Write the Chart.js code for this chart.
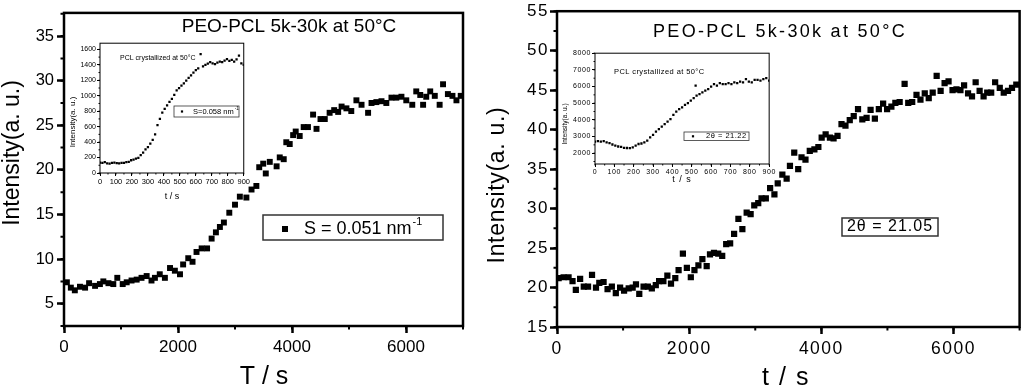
<!DOCTYPE html>
<html>
<head>
<meta charset="utf-8">
<script src="https://cdn.jsdelivr.net/npm/chart.js@4.4.1/dist/chart.umd.min.js"></script>
<style>
  html, body { margin: 0; padding: 0; background: #fff; }
  #wrap { position: relative; width: 1024px; height: 389px; overflow: hidden; }
  canvas { position: absolute; }
</style>
</head>
<body>
<div id="wrap">
  <canvas id="mainL" style="left:0;top:0" width="480" height="389"></canvas>
  <canvas id="mainR" style="left:480px;top:0" width="544" height="389"></canvas>
  <canvas id="insetL" style="left:66px;top:38px" width="185" height="166"></canvas>
  <canvas id="insetR" style="left:558px;top:48px" width="218" height="140"></canvas>
</div>
<script>
// left panel, S = 0.051 nm-1
const leftTimes = [50,120,190,280,370,440,545,630,690,780,865,935,1030,1100,1185,1275,1360,1450,1535,1595,
  1680,1770,1860,1945,2035,2090,2180,2255,2325,2415,2510,2590,2665,2735,2805,2900,3000,3085,3200,3290,
  3375,3425,3495,3540,3610,3730,3785,3855,3900,3960,4020,4065,4135,4205,4280,4370,4430,4500,4575,4660,
  4740,4810,4870,4955,5040,5130,5220,5335,5395,5480,5570,5655,5745,5830,5920,6005,6110,6180,6250,6300,
  6355,6425,6505,6590,6650,6735,6815,6885,6960];
const leftValues = [7.4,6.8,6.5,6.9,6.8,7.3,7.0,7.2,7.5,7.3,7.2,7.9,7.2,7.4,7.6,7.7,7.9,8.1,7.6,7.9,
  8.3,7.9,9.0,8.7,8.3,9.4,10.1,9.7,10.8,11.2,11.2,12.3,13.0,13.6,14.1,15.2,16.1,17.0,16.9,17.8,
  18.2,20.3,20.7,19.6,20.9,20.4,21.4,21.2,23.1,22.9,23.9,24.3,23.8,24.8,24.8,26.2,24.6,25.7,25.7,26.4,
  26.7,26.5,27.1,26.9,26.6,27.8,27.3,26.4,27.5,27.6,27.7,27.5,28.1,28.1,28.2,27.8,27.3,28.8,28.4,27.3,
  28.2,28.8,28.3,27.3,29.6,28.5,28.3,27.8,28.3];

// right panel, 2theta = 21.05
const rightTimes = [25,100,175,235,285,350,405,470,530,590,640,705,765,830,890,955,1015,1085,1145,1195,
  1245,1310,1375,1435,1495,1545,1610,1670,1725,1790,1840,1905,1965,2025,2080,2140,2200,2265,2315,2375,
  2440,2500,2560,2620,2680,2745,2805,2870,2930,2985,3045,3095,3160,3225,3290,3340,3410,3475,3525,3590,
  3650,3700,3760,3825,3895,3955,4005,4065,4130,4185,4245,4305,4365,4430,4490,4555,4620,4685,4745,4810,
  4870,4935,4995,5060,5120,5185,5260,5315,5375,5440,5500,5565,5625,5685,5745,5805,5865,5925,5985,6045,
  6105,6160,6220,6280,6335,6395,6455,6510,6570,6630,6700,6760,6825,6885,6950];
const rightValues = [21.2,21.3,21.3,20.8,19.7,21.1,20.1,20.1,21.6,20.0,20.6,20.7,19.8,20.1,19.3,20.0,19.6,19.9,20.0,20.4,
  19.2,20.1,20.1,19.9,20.3,20.8,20.8,21.5,20.5,21.2,22.2,24.3,22.5,21.3,22.2,22.8,23.6,22.7,24.2,24.4,
  24.3,24.0,25.5,25.6,26.8,28.7,27.4,29.5,29.3,30.4,30.7,31.3,31.3,32.6,31.8,33.2,34.3,33.8,35.4,37.1,
  35.0,36.5,36.2,37.3,37.5,37.8,39.0,39.4,39.0,38.9,39.2,40.7,40.5,41.2,41.7,42.6,41.3,41.5,42.5,41.4,
  42.6,43.3,42.6,42.9,43.4,43.5,45.8,43.4,43.5,44.4,43.8,44.6,44.0,44.7,46.8,44.9,45.9,46.1,45.0,45.1,
  45.0,45.6,44.6,44.2,46.0,44.9,44.2,44.7,44.7,46.0,45.3,44.7,44.9,45.3,45.7];

// insets, 0-900 s
const insetTimes = [0,15,30,45,60,75,90,105,120,135,150,165,180,195,210,225,240,255,270,285,
  300,315,330,345,360,375,390,405,420,435,450,465,480,495,510,525,540,555,570,585,
  600,615,630,645,660,675,690,705,720,735,750,765,780,795,810,825,840,855,870,885,900];
const insetLValues = [135,130,140,125,120,130,135,128,125,132,130,140,145,165,172,185,195,230,265,305,
  335,380,430,500,620,700,780,830,875,920,960,1010,1070,1100,1130,1160,1195,1230,1265,1300,
  1330,1355,1540,1380,1400,1415,1435,1420,1410,1430,1440,1435,1455,1475,1450,1465,1440,1470,1520,1420,1400];
const insetRValues = [2700,2720,2690,2720,2650,2600,2520,2450,2400,2380,2320,2310,2300,2350,2450,2550,2580,2650,2750,2950,
  3100,3300,3450,3600,3750,3900,4050,4300,4500,4650,4750,4900,5000,5150,5300,5450,5550,5650,5750,5850,
  6000,6150,6050,6200,6150,6150,6200,6150,6250,6200,6300,6250,6450,6300,6250,6400,6400,6350,6450,6500,6350];
const outlierR = { x: 520, y: 6050 };

// tick labels
const mainXTicks = [0, 2000, 4000, 6000];
const leftYTicks = [5, 10, 15, 20, 25, 30, 35];
const rightYTicks = [15, 20, 25, 30, 35, 40, 45, 50, 55];
const insetXTicks = [0, 100, 200, 300, 400, 500, 600, 700, 800, 900];
const insetLYTicks = [0, 200, 400, 600, 800, 1000, 1200, 1400, 1600];
const insetRYTicks = [2000, 3000, 4000, 5000, 6000, 7000, 8000];

const FONT = "'Liberation Sans', Arial, sans-serif";

function drawText(ctx, t) {
  ctx.save();
  ctx.fillStyle = '#000';
  ctx.font = t.size + 'px ' + FONT;
  ctx.letterSpacing = (t.ls || 0) + 'px';
  ctx.textBaseline = 'middle';
  ctx.translate(t.x, t.y);
  if (t.rot) ctx.rotate(-Math.PI / 2);
  ctx.textAlign = t.align || 'center';
  ctx.fillText(t.text, 0, 0);
  if (t.sup) {
    const w = ctx.measureText(t.text).width;
    ctx.font = (t.size * 0.6) + 'px ' + FONT;
    ctx.textAlign = 'left';
    ctx.fillText(t.sup, w + 1, -t.size * 0.4);
  }
  ctx.restore();
}

const decor = {
  id: 'decor',
  beforeDraw(chart, args, o) {
    const ctx = chart.ctx;
    ctx.letterSpacing = (o.ls || 0) + 'px';
    if (o.fillArea) {
      const a = chart.chartArea;
      ctx.save();
      ctx.fillStyle = '#fff';
      ctx.fillRect(a.left, a.top, a.width, a.height);
      ctx.restore();
    }
  },
  afterDraw(chart, args, o) {
    const { ctx, chartArea: a, scales: { x, y } } = chart;
    ctx.save();
    ctx.strokeStyle = '#000';
    ctx.lineWidth = o.minorW;
    ctx.beginPath();
    for (let v = x.min; v <= x.max + 1e-9; v += o.minorX) {
      const px = x.getPixelForValue(v);
      ctx.moveTo(px, a.bottom); ctx.lineTo(px, a.bottom + o.minorLen);
    }
    for (let v = Math.ceil(y.min / o.minorY) * o.minorY; v <= y.max + 1e-9; v += o.minorY) {
      const py = y.getPixelForValue(v);
      ctx.moveTo(a.left, py); ctx.lineTo(a.left - o.minorLen, py);
    }
    ctx.stroke();
    ctx.lineWidth = o.frame;
    ctx.strokeRect(a.left, a.top, a.width, a.height);
    if (o.box) {
      ctx.lineWidth = o.box.lw;
      ctx.strokeStyle = '#333';
      ctx.strokeRect(o.box.x, o.box.y, o.box.w, o.box.h);
      if (o.box.mark) {
        const m = o.box.mark;
        ctx.fillStyle = '#000';
        ctx.fillRect(m.x - m.s / 2, m.y - m.s / 2, m.s, m.s);
      }
    }
    ctx.restore();
    (o.texts || []).forEach(t => drawText(ctx, t));
  }
};

function scatterChart(id, o) {
  const pts = o.times.map((t, i) => ({ x: t, y: o.values[i] }));
  if (o.extra) pts.push(o.extra);
  const axisCommon = (tickFont, pad) => ({
    type: 'linear',
    border: { display: false },
    grid: { drawOnChartArea: false, tickLength: o.tickLen, tickWidth: o.tickW, tickColor: '#000' },
    ticks: { color: '#000', font: tickFont, padding: pad, maxRotation: 0, autoSkip: false, callback: v => String(v) }
  });
  const xs = axisCommon(o.xFont, o.xPad);
  Object.assign(xs, {
    min: o.xMin, max: o.xMax,
    afterBuildTicks: s => { s.ticks = o.xTicks.map(v => ({ value: v })); },
    afterFit: s => { s.height = o.xH; }
  });
  const ys = axisCommon(o.yFont, o.yPad);
  Object.assign(ys, {
    min: o.yMin, max: o.yMax,
    afterBuildTicks: s => { s.ticks = o.yTicks.map(v => ({ value: v })); },
    afterFit: s => { s.width = o.yW; }
  });
  return new Chart(document.getElementById(id), {
    type: 'scatter',
    data: {
      datasets: [{
        data: pts,
        pointStyle: 'rect',
        pointRadius: o.r,
        pointHoverRadius: o.r,
        backgroundColor: '#000',
        borderWidth: 0
      }]
    },
    options: {
      responsive: false,
      animation: false,
      events: [],
      layout: { padding: o.pad },
      plugins: { legend: { display: false }, tooltip: { enabled: false }, decor: o.decor },
      scales: { x: xs, y: ys }
    },
    plugins: [decor]
  });
}

const title = 'PEO-PCL 5k-30k at 50\u00B0C';
const insetTitle = 'PCL crystallized at 50\u00B0C';
const yTitle = 'Intensity(a. u.)';

scatterChart('mainL', {
  times: leftTimes, values: leftValues, r: 4.2,
  xMin: 0, xMax: 7000, yMin: 2.5, yMax: 37.6,
  xTicks: mainXTicks, yTicks: leftYTicks,
  xH: 60, yW: 64, pad: { left: 0, top: 5, right: 17, bottom: 3 },
  tickLen: 7, tickW: 2.5,
  xFont: { family: FONT, size: 17 }, yFont: { family: FONT, size: 16.5 }, xPad: 4, yPad: 3,
  decor: {
    minorX: 1000, minorY: 2.5, minorLen: 3.5, minorW: 2, frame: 2.5,
    box: { x: 263, y: 215, w: 180, h: 25, lw: 1.5, mark: { x: 285, y: 229, s: 6 } },
    texts: [
      { text: title, x: 289, y: 27, size: 19 },
      { text: yTitle, x: 13, y: 153, size: 23, rot: true },
      { text: 'T / s', x: 264, y: 377, size: 25 },
      { text: 'S = 0.051 nm', sup: '-1', x: 304, y: 229, size: 18, align: 'left' }
    ]
  }
});

scatterChart('mainR', {
  times: rightTimes, values: rightValues, r: 4.4,
  xMin: 0, xMax: 7000, yMin: 15, yMax: 55,
  xTicks: mainXTicks, yTicks: rightYTicks,
  xH: 59, yW: 77, pad: { left: 0, top: 7, right: 4, bottom: 3 },
  tickLen: 7, tickW: 2.5,
  xFont: { family: FONT, size: 17.5 }, yFont: { family: FONT, size: 17 }, xPad: 5, yPad: 1,
  decor: {
    ls: 1.5,
    minorX: 1000, minorY: 2.5, minorLen: 3.5, minorW: 2, frame: 2.5,
    box: { x: 362, y: 218, w: 96, h: 18, lw: 1.5 },
    texts: [
      { text: title, x: 300, y: 32, size: 18, ls: 2.3 },
      { text: yTitle, x: 18, y: 185, size: 23, rot: true, ls: 0.7 },
      { text: 't / s', x: 306, y: 378, size: 25, ls: 1.5 },
      { text: '2\u03B8 = 21.05', x: 410, y: 227, size: 16, ls: 1 }
    ]
  }
});

scatterChart('insetL', {
  times: insetTimes, values: insetLValues, r: 1.6,
  xMin: 0, xMax: 900, yMin: 0, yMax: 1680,
  xTicks: insetXTicks, yTicks: insetLYTicks,
  xH: 28, yW: 34, pad: { left: 0, top: 4, right: 7, bottom: 3 },
  tickLen: 3, tickW: 1,
  xFont: { family: FONT, size: 7.5 }, yFont: { family: FONT, size: 7 }, xPad: 1, yPad: 1,
  decor: {
    fillArea: true,
    minorX: 50, minorY: 100, minorLen: 1.5, minorW: 1, frame: 1,
    box: { x: 108, y: 68, w: 65, h: 11, lw: 0.8, mark: { x: 116, y: 73.5, s: 2.2 } },
    texts: [
      { text: insetTitle, x: 54, y: 20, size: 7, align: 'left' },
      { text: yTitle, x: 7, y: 84, size: 8, rot: true },
      { text: 't / s', x: 106, y: 159, size: 9 },
      { text: 'S=0.058 nm', sup: '-1', x: 127, y: 73.5, size: 7.5, align: 'left' }
    ]
  }
});

scatterChart('insetR', {
  times: insetTimes, values: insetRValues, extra: outlierR, r: 1.6,
  xMin: 0, xMax: 900, yMin: 1350, yMax: 8000,
  xTicks: insetXTicks, yTicks: insetRYTicks,
  xH: 22, yW: 37, pad: { left: 0, top: 5, right: 6, bottom: 2 },
  tickLen: 3, tickW: 1,
  xFont: { family: FONT, size: 7 }, yFont: { family: FONT, size: 7 }, xPad: 1, yPad: 1,
  decor: {
    ls: 0.6, fillArea: true,
    minorX: 50, minorY: 500, minorLen: 1.5, minorW: 1, frame: 1,
    box: { x: 126, y: 84, w: 65, h: 8.5, lw: 0.8, mark: { x: 135, y: 88.3, s: 2.2 } },
    texts: [
      { text: insetTitle, x: 56, y: 24, size: 7.5, align: 'left', ls: 0.4 },
      { text: yTitle, x: 7, y: 76, size: 6.5, rot: true },
      { text: 't / s', x: 124, y: 132, size: 9, ls: 1 },
      { text: '2\u03B8 = 21.22', x: 148, y: 88.3, size: 7.5, align: 'left', ls: 0.5 }
    ]
  }
});
</script>
</body>
</html>
